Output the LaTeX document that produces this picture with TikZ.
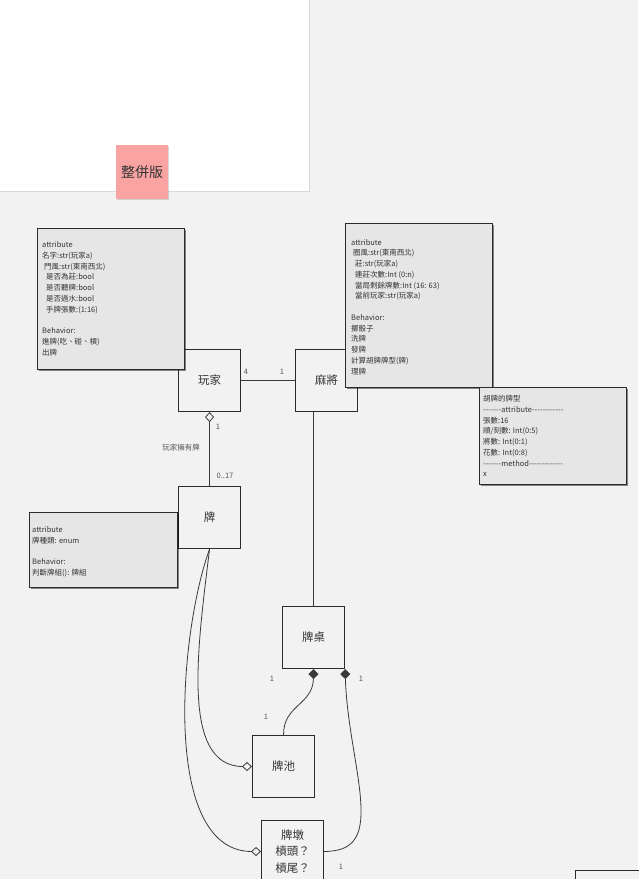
\documentclass[tikz,border=0pt]{standalone}
\usepackage{fontspec}
\setmainfont{Noto Sans CJK TC}
\usetikzlibrary{arrows.meta,shadows}
\definecolor{bgcol}{HTML}{F2F2F2}
\definecolor{attrcol}{HTML}{E6E6E6}
\definecolor{linecol}{HTML}{2B2B2B}
\definecolor{linkcol}{HTML}{3A3A3A}
\definecolor{textcol}{HTML}{333333}
\definecolor{labelcol}{HTML}{555555}
\definecolor{notecol}{HTML}{F9A3A3}
\newcommand{\ds}{-\kern0pt}

\begin{document}
\begin{tikzpicture}[x=1pt, y=-1pt,
    cls/.style={draw=linecol, line width=1.1pt, fill=bgcol, minimum width=62pt, minimum height=62pt, inner sep=0pt, anchor=north west, align=center, text=textcol, font=\fontsize{11.5}{16.3}\selectfont},
    attr/.style={draw=linecol, line width=1pt, fill=attrcol, anchor=north west, inner sep=0pt, drop shadow={shadow xshift=1pt, shadow yshift=-1pt, fill=black, opacity=0.45}},
    attrtext/.style={anchor=north west, inner sep=0pt, align=left, text=textcol, font=\fontsize{7.5}{10.75}\selectfont},
    mult/.style={inner sep=0pt, text=labelcol, font=\fontsize{7.5}{9}\selectfont},
    link/.style={draw=linkcol, line width=0.8pt},
  ]
    \useasboundingbox (0,0) rectangle (638,879);
    \fill[bgcol] (0,0) rectangle (638,879);
    \fill[white] (-5,-5) rectangle (309,191);
    \draw[black!15, line width=1pt] (309,-5) -- (309,191) -- (-5,191);

    \node[fill=notecol, minimum width=52pt, minimum height=54pt, inner sep=0pt, anchor=north west, text=black!80, font=\fontsize{14}{16}\selectfont, drop shadow={shadow xshift=0.5pt, shadow yshift=-1pt, fill=black, opacity=0.15}] (note) at (116,145) {整併版};

    % クラス
    \node[cls] (player) at (178,349) {玩家};
    \node[cls] (mj) at (295,349) {麻將};
    \node[cls] (tile) at (178,486) {牌};
    \node[cls] (table) at (282,606) {牌桌};
    \node[cls] (pool) at (252,735) {牌池};
    \node[cls] (dun) at (261,820) {牌墩\\槓頭？\\槓尾？};
    \node[cls, minimum width=80pt, minimum height=30pt] (cutbox) at (575,870) {};

    % 属性
    \node[attr, minimum width=147pt, minimum height=141pt] (playerattr) at (37,228) {};
    \node[attrtext] (playertext) at (42,241.5) {attribute\\名字:str(玩家a)\\\hspace*{2pt}門風:str(東南西北)\\\hspace*{4pt}是否為莊:bool\\\hspace*{4pt}是否聽牌:bool\\\hspace*{4pt}是否過水:bool\\\hspace*{4pt}手牌張數:(1:16)\\[10.75pt]Behavior:\\進牌(吃、碰、槓)\\出牌};

    \node[attr, minimum width=147pt, minimum height=164pt] (mjattr) at (345,223) {};
    \node[attrtext] (mjtext) at (351,239) {attribute\\\hspace*{2pt}圈風:str(東南西北)\\\hspace*{4pt}莊:str(玩家a)\\\hspace*{4pt}連莊次數:Int (0:n)\\\hspace*{4pt}當局剩餘牌數:Int (16: 63)\\\hspace*{4pt}當前玩家:str(玩家a)\\[10.75pt]Behavior:\\擲骰子\\洗牌\\發牌\\計算胡牌牌型(牌)\\理牌};

    \node[attr, minimum width=147pt, minimum height=97pt] (huattr) at (479,387) {};
    \node[attrtext] (hutext) at (483,395) {胡牌的牌型\\\ds\ds\ds\ds\ds\ds\ds attribute\ds\ds\ds\ds\ds\ds\ds\ds\ds\ds\ds\ds\\張數:16\\順/刻數: Int(0:5)\\將數: Int(0:1)\\花數: Int(0:8)\\\ds\ds\ds\ds\ds\ds\ds method\ds\ds\ds\ds\ds\ds\ds\ds\ds\ds\ds\ds\ds\\x};

    \node[attr, minimum width=148pt, minimum height=75pt] (tileattr) at (29,512) {};
    \node[attrtext] (tiletext) at (32,526.5) {attribute\\牌種類: enum\\[10.75pt]Behavior:\\判斷牌組(): 牌組};

    % 関連を引く
    \draw[link] (player.east) -- (mj.west);
    \node[mult] (m4) at (246,372) {4};
    \node[mult] (m1a) at (282,372) {1};

    \draw[link, {Diamond[open, length=10pt, width=9pt]}-] (player.south) -- (tile.north);
    \node[mult] (m1b) at (218,427) {1};
    \node[mult] (own) at (181,448) {玩家擁有牌};
    \node[mult] (m017) at (225,476) {0..17};

    \draw[link] (table.north |- mj.south) -- (table.north);

    \draw[link, {Diamond[length=10pt, width=10pt]}-] (table.south) .. controls (313,705) and (283,705) .. (pool.north);
    \node[mult] (m1c) at (272,679) {1};
    \node[mult] (m1d) at (266,717) {1};

    \draw[link, {Diamond[length=10pt, width=10pt]}-] (table.south east) .. controls (347,730) and (362,780) .. (361,815) .. controls (360,845) and (345,851) .. (dun.east);
    \node[mult] (m1e) at (361,679) {1};
    \node[mult] (m1f) at (341,867) {1};

    \draw[link, -{Diamond[open, length=10pt, width=9pt]}] (tile.south) .. controls (198,645) and (180,766) .. (pool.west);
    \draw[link, -{Diamond[open, length=10pt, width=9pt]}] (tile.south) .. controls (180,630) and (160,851) .. (dun.west);
  \end{tikzpicture}
\end{document}
